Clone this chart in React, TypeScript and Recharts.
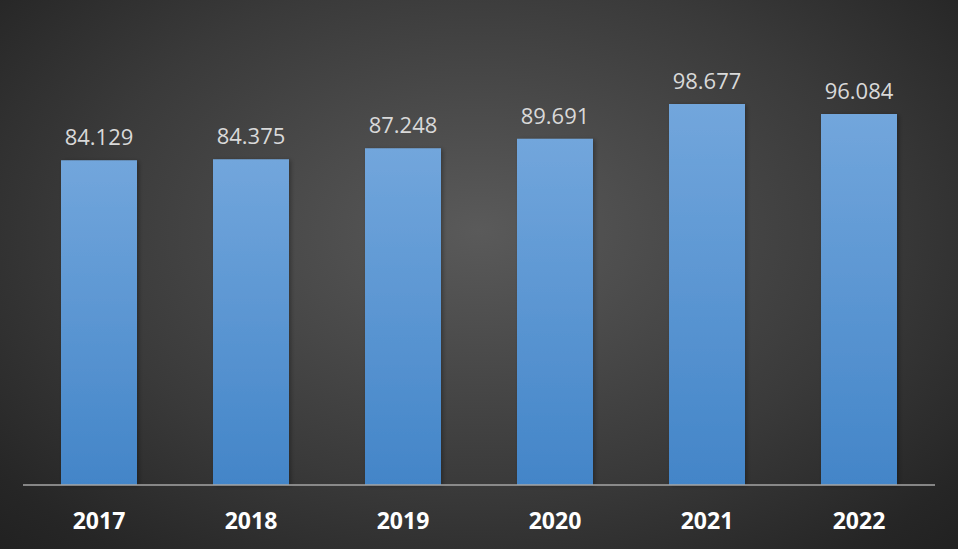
import { BarChart, Bar, XAxis, YAxis, LabelList } from 'recharts';

const YEARS = ['2017', '2018', '2019', '2020', '2021', '2022'];
const VALUES = [84.129, 84.375, 87.248, 89.691, 98.677, 96.084];

const chartData = YEARS.map((year, i) => ({ year, value: VALUES[i] }));

const FONT = '"Open Sans", "DejaVu Sans", sans-serif';

const YearTick = ({ x, y, payload }: any) => (
  <text
    x={x}
    y={y + 36}
    textAnchor="middle"
    fill="#ffffff"
    fontSize={23}
    fontWeight={700}
    fontFamily={FONT}
  >
    {payload.value}
  </text>
);

const App = () => {
  return (
    <div
      style={{
        position: 'absolute',
        left: 0,
        top: 0,
        width: 958,
        height: 549,
        background:
          'radial-gradient(ellipse 75% 85% at 50% 42%, #5a5a5a 0%, #3a3a3a 55%, #262626 85%, #1f1f1f 100%)',
      }}
    >
      <BarChart
        width={958}
        height={549}
        data={chartData}
        margin={{ top: 99, right: 23, bottom: 24, left: 23 }}
      >
        <defs>
          <linearGradient id="barFill" x1="0" y1="0" x2="0" y2="1">
            <stop offset="0%" stopColor="#72a6dc" />
            <stop offset="100%" stopColor="#4385c8" />
          </linearGradient>
          <filter id="barShadow" x="-10%" y="-10%" width="130%" height="120%">
            <feDropShadow dx="2" dy="1" stdDeviation="2" floodColor="#000" floodOpacity="0.3" />
          </filter>
        </defs>
        <XAxis
          dataKey="year"
          height={40}
          axisLine={{ stroke: '#a6a6a6', strokeWidth: 1.5 }}
          tickLine={false}
          tick={<YearTick />}
          interval={0}
        />
        <YAxis hide domain={[0, 100]} />
        <Bar
          dataKey="value"
          barSize={76}
          fill="url(#barFill)"
          filter="url(#barShadow)"
          isAnimationActive={false}
        >
          <LabelList
            dataKey="value"
            position="top"
            offset={15}
            fill="#d9d9d9"
            fontSize={22}
            fontFamily={FONT}
            formatter={(v: number) => v.toFixed(3)}
          />
        </Bar>
      </BarChart>
    </div>
  );
};

export default App;
